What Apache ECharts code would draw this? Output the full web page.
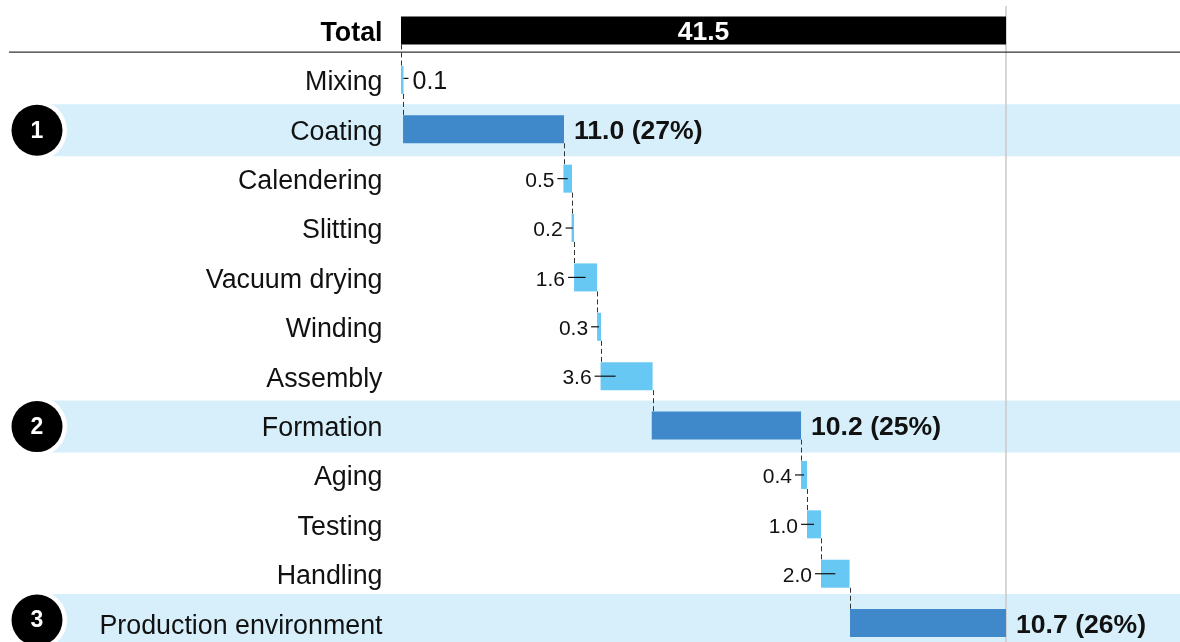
<!DOCTYPE html>
<html><head><meta charset="utf-8">
<style>html,body{margin:0;padding:0;background:#fff;overflow:hidden}#c{width:1180px;height:642px}</style>
<script src="https://cdn.jsdelivr.net/npm/echarts@6/dist/echarts.min.js"></script>
</head><body><div id="c"></div>
<script>
const categories = ['Total','Mixing','Coating','Calendering','Slitting','Vacuum drying','Winding','Assembly','Formation','Aging','Testing','Handling','Production environment'];
const barStart = [0,0,0.14,11.14,11.7,11.87,13.45,13.69,17.2,27.44,27.85,28.81,30.8];
const barEnd = [41.5,0.17,11.18,11.73,11.87,13.45,13.72,17.26,27.44,27.85,28.81,30.77,41.5];
const valueLabels = ['41.5','0.1','11.0 (27%)','0.5','0.2','1.6','0.3','3.6','10.2 (25%)','0.4','1.0','2.0','10.7 (26%)'];
const badgeNumbers = [null,null,'1',null,null,null,null,null,'2',null,null,null,'3'];

const FONT = '"Liberation Sans", Arial, sans-serif';
const DARK = '#3F88C9', LIGHT = '#68C8F4', BAND = '#D6EFFB';
const rows = categories.map((c,i)=>i);
const barColor = i => i===0 ? '#000' : (badgeNumbers[i] ? DARK : LIGHT);
const bandShift = i => i===12 ? -3 : 1;

const chart = echarts.init(document.getElementById('c'), null, {renderer:'canvas'});
chart.setOption({
  animation:false,
  grid:{left:401, top:5.8, width:605, height:642, containLabel:false, outerBoundsMode:'none'},
  xAxis:{type:'value', min:0, max:41.5, show:false},
  yAxis:{type:'category', inverse:true, data:categories, z:6,
    axisLine:{show:false}, axisTick:{show:false}, splitLine:{show:false},
    axisLabel:{interval:0, margin:18.5, align:'right', verticalAlign:'middle', padding:[6,0,0,0],
      color:'#111', fontFamily:FONT, fontSize:26.8,
      formatter:(v,i)=> i===0 ? '{b|'+v+'}' : v,
      rich:{b:{fontWeight:'bold', fontFamily:FONT, fontSize:26.8, color:'#000'}}}},
  series:[
    { // highlight bands
      type:'custom', z:0, clip:false, coordinateSystem:'cartesian2d',
      data:rows.filter(i=>badgeNumbers[i]).map(i=>[0,i]), encode:{x:0,y:1},
      renderItem:(p,api)=>{
        const i=api.value(1), y=api.coord([0,i])[1]+bandShift(i);
        return {type:'group',children:[
          {type:'rect',shape:{x:37,y:y-26,width:api.getWidth()-37,height:52},style:{fill:BAND}},
        ]};
      }
    },
    { // total reference line + header rule + connectors
      type:'custom', z:1, clip:false,
      data:rows.map(i=>[barEnd[i],i]), encode:{x:0,y:1},
      renderItem:(p,api)=>{
        const i=api.value(1), kids=[];
        const half=14;
        if(i===0){
          const t=api.coord([0,0])[1];
          const r=api.coord([41.5,0])[0];
          kids.push({type:'line',shape:{x1:r,y1:6,x2:r,y2:642},style:{stroke:'#C8C8C8',lineWidth:1.5}});
          kids.push({type:'line',shape:{x1:9,y1:t+21.7,x2:api.getWidth(),y2:t+21.7},style:{stroke:'#333',lineWidth:1.3}});
        }
        if(i<categories.length-1){
          const xv = i===0 ? barStart[0] : barEnd[i];
          const a=api.coord([xv,i]), b=api.coord([xv,i+1]);
          const xp=Math.round(a[0])+0.5;
          kids.push({type:'line',shape:{x1:xp,y1:a[1]+half,x2:xp,y2:b[1]-half},
            style:{stroke:'#333',lineWidth:1,lineDash:[5,3]}});
        }
        return {type:'group',children:kids};
      }
    },
    { type:'bar', stack:'w', z:2, barWidth:28, silent:true,
      itemStyle:{color:'transparent'}, data:barStart },
    { type:'bar', stack:'w', z:2, barWidth:28, silent:true,
      data:rows.map(i=>({value:barEnd[i]-barStart[i], itemStyle:{color:barColor(i)}})) },
    { // value labels, leader ticks and badges
      type:'custom', z:4, clip:false,
      data:rows.map(i=>[barStart[i],i]), encode:{x:0,y:1},
      renderItem:(p,api)=>{
        const i=api.value(1), kids=[];
        const a=api.coord([barStart[i],i]), b=api.coord([barEnd[i],i]);
        const y=a[1], ty=y+2.5;
        if(i===0){
          kids.push({type:'text',style:{x:(a[0]+b[0])/2,y:ty,text:valueLabels[i],fill:'#fff',
            font:'bold 26.5px '+FONT,align:'center',verticalAlign:'middle'}});
        } else if(badgeNumbers[i]){
          kids.push({type:'text',style:{x:b[0]+10,y:ty,text:valueLabels[i],fill:'#111',
            font:'bold 26.6px '+FONT,align:'left',verticalAlign:'middle'}});
          const cy=y+bandShift(i);
          kids.push({type:'circle',shape:{cx:37,cy:cy,r:30},style:{fill:'#fff'}});
          kids.push({type:'circle',shape:{cx:37,cy:cy,r:25.5},style:{fill:'#000'}});
          kids.push({type:'text',style:{x:37,y:cy+1,text:badgeNumbers[i],fill:'#fff',
            font:'bold 23px '+FONT,align:'center',verticalAlign:'middle'}});
        } else if(i===1){
          kids.push({type:'line',shape:{x1:b[0],y1:y-1.5,x2:b[0]+5,y2:y-1.5},style:{stroke:'#111',lineWidth:1.2}});
          kids.push({type:'text',style:{x:b[0]+9,y:ty,text:valueLabels[i],fill:'#111',
            font:'25px '+FONT,align:'left',verticalAlign:'middle'}});
        } else {
          const x0=a[0]-6, x1=Math.min((a[0]+b[0])/2, a[0]+15);
          kids.push({type:'line',shape:{x1:x0,y1:y,x2:x1,y2:y},style:{stroke:'#111',lineWidth:1.2}});
          kids.push({type:'text',style:{x:x0-3,y:ty,text:valueLabels[i],fill:'#111',
            font:'21px '+FONT,align:'right',verticalAlign:'middle'}});
        }
        return {type:'group',children:kids};
      }
    }
  ]
});
</script></body></html>
